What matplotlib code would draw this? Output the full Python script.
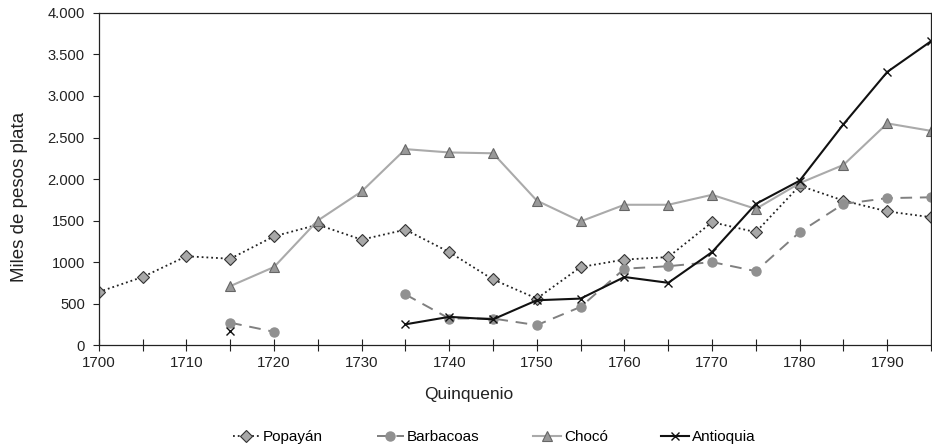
import numpy as np
import matplotlib.pyplot as plt
from matplotlib.ticker import FixedLocator, FixedFormatter, MultipleLocator

plt.rcParams['font.family'] = ['Liberation Sans', 'DejaVu Sans']

nan = np.nan
years = np.arange(1700, 1800, 5)

popayan = [640, 820, 1070, 1040, 1310, 1450, 1270, 1390, 1120, 790,
           560, 940, 1030, 1060, 1480, 1360, 1920, 1740, 1610, 1540]
barbacoas = [nan, nan, nan, 270, 160, nan, nan, 610, 320, 320,
             240, 460, 920, 950, 1000, 890, 1360, 1700, 1770, 1780]
choco = [nan, nan, nan, 710, 940, 1500, 1850, 2360, 2320, 2310,
         1740, 1490, 1690, 1690, 1810, 1640, 1950, 2170, 2670, 2580]
antioquia = [nan, nan, nan, 170, nan, nan, nan, 250, 340, 310,
             540, 560, 820, 750, 1120, 1700, 1980, 2660, 3290, 3660]

yticks = [0, 500, 1000, 1500, 2000, 2500, 3000, 3500, 4000]
ytick_labels = ['0', '500', '1000', '1500', '2.000', '2.500', '3.000', '3.500', '4.000']

fig = plt.figure(figsize=(9.32, 4.47), dpi=100)
ax = fig.add_axes([0.106, 0.228, 0.893, 0.743])

ax.plot(years, popayan, color='#222222', ls=':', lw=1.3, marker='D', ms=6,
        mfc='#a8a8a8', mec='#333333', mew=0.8, label='Popayán')
ax.plot(years, barbacoas, color='#808080', ls=(0, (6, 4)), lw=1.4, marker='o', ms=6.5,
        mfc='#909090', mec='#909090', label='Barbacoas')
ax.plot(years, choco, color='#aaaaaa', ls='-', lw=1.5, marker='^', ms=7,
        mfc='#999999', mec='#666666', mew=0.8, label='Chocó')
ax.plot(years, antioquia, color='#111111', ls='-', lw=1.5, marker='x', ms=6,
        mec='#111111', mew=1.0, label='Antioquia')

ax.set_xlim(1700, 1795)
ax.set_ylim(0, 4000)
ax.xaxis.set_major_locator(MultipleLocator(10))
ax.xaxis.set_minor_locator(MultipleLocator(5))
ax.yaxis.set_major_locator(FixedLocator(yticks))
ax.yaxis.set_major_formatter(FixedFormatter(ytick_labels))
ax.tick_params(axis='x', which='both', direction='inout', length=8, width=0.8,
               labelsize=10.8, colors='#222222', pad=4)
ax.tick_params(axis='y', direction='out', length=4, width=0.8, labelsize=10.6,
               colors='#222222', pad=6)

for sp in ax.spines.values():
    sp.set_color('#222222')
    sp.set_linewidth(0.9)

ax.set_xlabel('Quinquenio', fontsize=12.5, color='#222222')
ax.set_ylabel('Miles de pesos plata', fontsize=13.5, color='#222222')
ax.xaxis.set_label_coords(0.444, -0.125)
ax.yaxis.set_label_coords(-0.085, 0.447)

fig.legend(loc='lower center', bbox_to_anchor=(0.53, -0.025), ncol=4, frameon=False,
           fontsize=11, handlelength=1.8, columnspacing=3.5, handletextpad=0.2)

fig.savefig('out.png', dpi=100)
